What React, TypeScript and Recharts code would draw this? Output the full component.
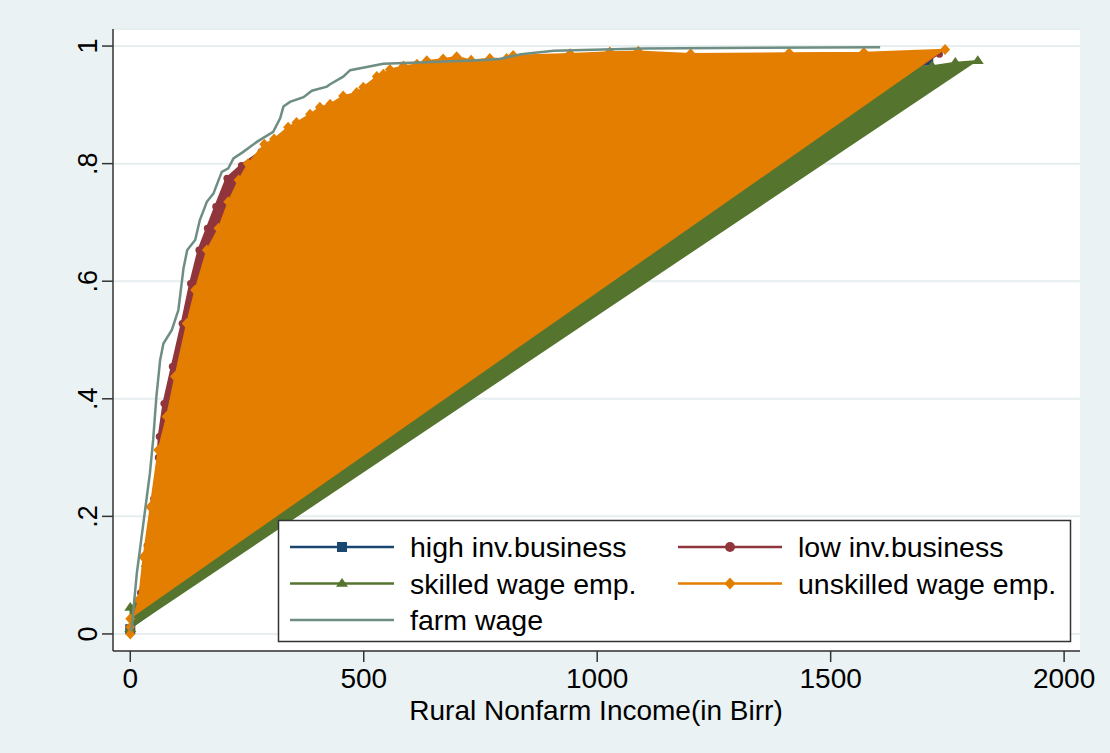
import React from 'react';
import { ComposedChart, Scatter, XAxis, YAxis, CartesianGrid } from 'recharts';

const NAVY = '#1a476f';
const MAROON = '#90353b';
const GREEN = '#55752f';
const ORANGE = '#e37e00';
const TEAL = '#6e8e84';
const BG = '#eaf2f3';
const AXIS = '#333333';
const FONT = '"Liberation Sans", Arial, sans-serif';

const xTicks = [0, 500, 1000, 1500, 2000];
const yTicks = [0, 0.2, 0.4, 0.6, 0.8, 1];
const yTickLabels = ['0', '.2', '.4', '.6', '.8', '1'];
const xTitle = 'Rural Nonfarm Income(in Birr)';

const seriesNames = ['high inv.business', 'low inv.business', 'skilled wage emp.', 'unskilled wage emp.', 'farm wage'];

// high inv.business
const highInvX = [0, 28, 45, 70, 100, 140, 180, 230, 300, 400, 550, 800, 1200, 1500, 1709];
const highInvY = [0.008, 0.05, 0.15, 0.28, 0.4, 0.53, 0.63, 0.72, 0.8, 0.86, 0.92, 0.95, 0.965, 0.97, 0.975];

// low inv.business
const lowInvX = [0, 22, 36, 50, 60, 62, 72, 90, 111, 129, 147, 165, 183, 207, 238, 280, 350, 450, 600, 900, 1300, 1733];
const lowInvY = [0.01, 0.07, 0.15, 0.23, 0.3, 0.336, 0.392, 0.455, 0.528, 0.596, 0.653, 0.69, 0.727, 0.775, 0.797, 0.82, 0.85, 0.89, 0.94, 0.965, 0.975, 0.986];

// skilled wage emp.
const skilledX = [0, 0, 22, 35, 55, 80, 115, 150, 200, 260, 330, 420, 550, 750, 1000, 1300, 1550, 1717, 1767, 1815];
const skilledY = [0.009, 0.045, 0.06, 0.12, 0.22, 0.33, 0.45, 0.57, 0.68, 0.76, 0.82, 0.87, 0.92, 0.945, 0.955, 0.96, 0.964, 0.966, 0.972, 0.975];

// unskilled wage emp.
const unskilledX = [0, 0, 0, 18, 28, 43, 60, 78, 96, 121, 139, 164, 189, 210, 232, 252, 287, 308, 338, 356, 385, 406, 428, 456, 485, 499, 528, 542, 556, 585, 614, 635, 670, 699, 730, 770, 806, 820, 942, 1027, 1088, 1200, 1411, 1571, 1745];
const unskilledY = [0.026, 0.0, 0.012, 0.058, 0.131, 0.216, 0.313, 0.37, 0.438, 0.528, 0.585, 0.653, 0.69, 0.735, 0.772, 0.8, 0.833, 0.842, 0.862, 0.87, 0.884, 0.896, 0.901, 0.915, 0.921, 0.93, 0.948, 0.952, 0.96, 0.966, 0.969, 0.975, 0.978, 0.982, 0.976, 0.979, 0.979, 0.984, 0.987, 0.99, 0.991, 0.987, 0.988, 0.989, 0.994];

// farm wage
const farmX = [0, 3, 14, 28, 42, 49, 56, 64, 71, 89, 103, 110, 114, 122, 139, 149, 164, 178, 196, 210, 221, 242, 271, 306, 321, 328, 342, 371, 389, 421, 428, 456, 471, 542, 749, 792, 807, 837, 907, 1098, 1606];
const farmY = [0.005, 0.01, 0.103, 0.188, 0.273, 0.33, 0.404, 0.466, 0.494, 0.517, 0.551, 0.596, 0.622, 0.653, 0.67, 0.704, 0.735, 0.749, 0.786, 0.792, 0.809, 0.82, 0.837, 0.854, 0.877, 0.897, 0.905, 0.913, 0.924, 0.931, 0.935, 0.948, 0.959, 0.97, 0.976, 0.978, 0.981, 0.986, 0.992, 0.996, 0.998];

const toPoints = (xs: number[], ys: number[]) => xs.map((x, i) => ({ x, y: ys[i] }));

const highInvData = toPoints(highInvX, highInvY);
const lowInvData = toPoints(lowInvX, lowInvY);
const skilledData = toPoints(skilledX, skilledY);
const unskilledData = toPoints(unskilledX, unskilledY);
const farmData = toPoints(farmX, farmY);

const squareShape = (color: string, s = 5) => (p: any) => (
  <rect x={p.cx - s} y={p.cy - s} width={2 * s} height={2 * s} fill={color} />
);
const circleShape = (color: string, r = 5) => (p: any) => <circle cx={p.cx} cy={p.cy} r={r} fill={color} />;
const triangleShape = (color: string, w = 6, h = 5.5) => (p: any) => (
  <polygon points={`${p.cx},${p.cy - h} ${p.cx + w},${p.cy + h * 0.6} ${p.cx - w},${p.cy + h * 0.6}`} fill={color} />
);
const diamondShape = (color: string, w = 5.5, h = 6) => (p: any) => (
  <polygon points={`${p.cx},${p.cy - h} ${p.cx + w},${p.cy} ${p.cx},${p.cy + h} ${p.cx - w},${p.cy}`} fill={color} />
);
const noShape = () => <g />;

const YTick = (props: any) => {
  const { y, payload } = props;
  const idx = yTicks.indexOf(payload.value);
  const label = idx >= 0 ? yTickLabels[idx] : String(payload.value);
  return (
    <text x={97} y={y} transform={`rotate(-90 97 ${y})`} textAnchor="middle" fontFamily={FONT} fontSize={27} fill="#000">
      {label}
    </text>
  );
};

const XTick = (props: any) => {
  const { x, payload } = props;
  return (
    <text x={x} y={688} textAnchor="middle" fontFamily={FONT} fontSize={28} fill="#000">
      {String(payload.value)}
    </text>
  );
};

const LegendMarker = ({ kind, cx, cy, color }: { kind: string; cx: number; cy: number; color: string }) => {
  const p = { cx, cy };
  if (kind === 'square') return squareShape(color)(p);
  if (kind === 'circle') return circleShape(color)(p);
  if (kind === 'triangle') return triangleShape(color)(p);
  if (kind === 'diamond') return diamondShape(color)(p);
  return null;
};

const legendItems = [
  { name: seriesNames[0], color: NAVY, kind: 'square', col: 0, row: 0 },
  { name: seriesNames[1], color: MAROON, kind: 'circle', col: 1, row: 0 },
  { name: seriesNames[2], color: GREEN, kind: 'triangle', col: 0, row: 1 },
  { name: seriesNames[3], color: ORANGE, kind: 'diamond', col: 1, row: 1 },
  { name: seriesNames[4], color: TEAL, kind: 'none', col: 0, row: 2 },
];

const Overlay = () => {
  const colLine = [290, 678];
  const rowY = [547, 583.5, 620];
  return (
    <svg width={1110} height={753} style={{ position: 'absolute', left: 0, top: 0, pointerEvents: 'none' }}>
      <rect x={278.5} y={520.5} width={792} height={121} fill="#ffffff" stroke={AXIS} strokeWidth={1.5} />
      {legendItems.map((it) => {
        const x0 = colLine[it.col];
        const y = rowY[it.row];
        return (
          <g key={it.name}>
            <line x1={x0} x2={x0 + 104} y1={y} y2={y} stroke={it.color} strokeWidth={2.5} />
            <LegendMarker kind={it.kind} cx={x0 + 52} cy={y} color={it.color} />
            <text x={x0 + 120} y={y + 10} fontFamily={FONT} fontSize={28.5} fill="#000">
              {it.name}
            </text>
          </g>
        );
      })}
      <text x={596} y={720} textAnchor="middle" fontFamily={FONT} fontSize={28} fill="#000">
        {xTitle}
      </text>
    </svg>
  );
};

export default function App() {
  return (
    <div style={{ position: 'absolute', left: 0, top: 0, width: 1110, height: 753, background: BG, overflow: 'hidden' }}>
      <ComposedChart width={1110} height={753} margin={{ top: 29, right: 30, bottom: 72, left: 53 }}>
        <CartesianGrid horizontal vertical={false} fill="#ffffff" stroke="#e6eef0" strokeWidth={2} />
        <XAxis
          type="number"
          dataKey="x"
          domain={[-37, 2034]}
          ticks={xTicks}
          allowDataOverflow
          height={30}
          tickSize={11}
          tick={<XTick />}
          axisLine={{ stroke: AXIS, strokeWidth: 1.5 }}
          tickLine={{ stroke: AXIS, strokeWidth: 1.5 }}
          interval={0}
        />
        <YAxis
          type="number"
          dataKey="y"
          domain={[-0.029, 1.029]}
          ticks={yTicks}
          allowDataOverflow
          width={60}
          tickSize={11}
          tick={<YTick />}
          axisLine={{ stroke: AXIS, strokeWidth: 1.5 }}
          tickLine={{ stroke: AXIS, strokeWidth: 1.5 }}
          interval={0}
        />
        <Scatter
          name={seriesNames[0]}
          data={highInvData}
          fill={NAVY}
          line={{ stroke: NAVY, strokeWidth: 1.5, fill: NAVY }}
          shape={squareShape(NAVY)}
          isAnimationActive={false}
        />
        <Scatter
          name={seriesNames[1]}
          data={lowInvData}
          fill={MAROON}
          line={{ stroke: MAROON, strokeWidth: 3, fill: MAROON }}
          shape={circleShape(MAROON, 3.5)}
          isAnimationActive={false}
        />
        <Scatter
          name={seriesNames[2]}
          data={skilledData}
          fill={GREEN}
          line={{ stroke: GREEN, strokeWidth: 1.5, fill: GREEN }}
          shape={triangleShape(GREEN)}
          isAnimationActive={false}
        />
        <Scatter
          name={seriesNames[3]}
          data={unskilledData}
          fill={ORANGE}
          line={{ stroke: ORANGE, strokeWidth: 1.5, fill: ORANGE }}
          shape={diamondShape(ORANGE, 5, 5.5)}
          isAnimationActive={false}
        />
        <Scatter
          name={seriesNames[4]}
          data={farmData}
          fill={TEAL}
          line={{ stroke: TEAL, strokeWidth: 2.5, fill: 'none' }}
          shape={noShape}
          isAnimationActive={false}
        />
      </ComposedChart>
      <Overlay />
    </div>
  );
}
